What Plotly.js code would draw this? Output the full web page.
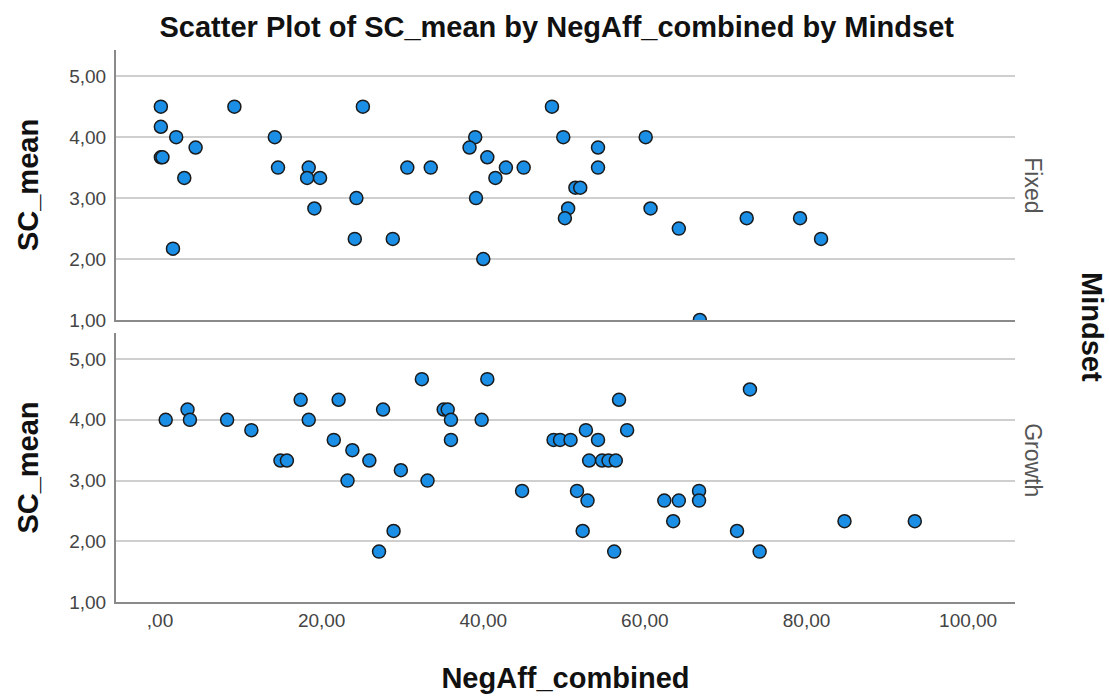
<!DOCTYPE html>
<html>
<head>
<meta charset="utf-8">
<script src="https://cdn.plot.ly/plotly-3.0.1.min.js"></script>
<style>html,body{margin:0;padding:0;background:#fff;}#chart{width:1109px;height:698px;}</style>
</head>
<body>
<div id="chart"></div>
<script>
// Data
const panels = ["Fixed", "Growth"];
const fixedX = [0.1, 0.1, 2.0, 4.4, 0.1, 0.3, 3.0, 1.6, 9.2, 14.2, 14.6, 18.4, 18.2, 19.8, 19.1, 24.3, 24.1, 25.1, 28.8, 30.6,
  33.5, 48.5, 39.0, 38.3, 40.5, 42.8, 45.0, 41.5, 39.1, 40.0, 49.9, 54.2, 54.2, 51.4, 52.0, 50.5, 50.1, 60.1, 60.7, 64.2,
  66.8, 72.6, 79.2, 81.8];
const fixedY = [4.5, 4.17, 4.0, 3.83, 3.67, 3.67, 3.33, 2.17, 4.5, 4.0, 3.5, 3.5, 3.33, 3.33, 2.83, 3.0, 2.33, 4.5, 2.33, 3.5,
  3.5, 4.5, 4.0, 3.83, 3.67, 3.5, 3.5, 3.33, 3.0, 2.0, 4.0, 3.83, 3.5, 3.17, 3.17, 2.83, 2.67, 4.0, 2.83, 2.5,
  1.0, 2.67, 2.67, 2.33];
const growthX = [0.7, 3.4, 3.7, 8.3, 11.3, 14.9, 15.7, 17.4, 18.4, 22.1, 21.5, 23.8, 25.9, 23.2, 27.6, 29.8, 28.9, 27.1, 32.4, 33.1,
  35.1, 35.6, 36.0, 36.0, 39.8, 40.5, 44.8, 48.7, 49.5, 50.8, 52.7, 54.2, 56.8, 57.8, 53.1, 54.7, 55.5, 56.4, 51.6, 52.9,
  52.3, 56.2, 62.4, 64.2, 63.5, 66.7, 66.7, 73.0, 71.4, 74.2, 84.7, 93.4];
const growthY = [4.0, 4.17, 4.0, 4.0, 3.83, 3.33, 3.33, 4.33, 4.0, 4.33, 3.67, 3.5, 3.33, 3.0, 4.17, 3.17, 2.17, 1.83, 4.67, 3.0,
  4.17, 4.17, 4.0, 3.67, 4.0, 4.67, 2.83, 3.67, 3.67, 3.67, 3.83, 3.67, 4.33, 3.83, 3.33, 3.33, 3.33, 3.33, 2.83, 2.67,
  2.17, 1.83, 2.67, 2.67, 2.33, 2.83, 2.67, 4.5, 2.17, 1.83, 2.33, 2.33];
const xTickVals = [0, 20, 40, 60, 80, 100];
const xTickText = [",00", "20,00", "40,00", "60,00", "80,00", "100,00"];
const yTickVals = [1, 2, 3, 4, 5];
const yTickText = ["1,00", "2,00", "3,00", "4,00", "5,00"];

const FONT = "Liberation Sans, Arial, Helvetica, sans-serif";
const marker = {color: "#1b8fe6", size: 13, line: {color: "#1a1a1a", width: 1.5}};

const traces = [
  {type: "scatter", mode: "markers", name: panels[0], x: fixedX, y: fixedY, xaxis: "x2", yaxis: "y2", marker: marker, showlegend: false},
  {type: "scatter", mode: "markers", name: panels[1], x: growthX, y: growthY, xaxis: "x", yaxis: "y", marker: marker, showlegend: false}
];

const xRange = [-5.45, 105.8];
const yRange = [1, 5.43];
const axisCommon = {
  showline: true, linecolor: "#8a8a8a", linewidth: 2, zeroline: false, ticks: "",
  tickfont: {family: FONT, size: 19, color: "#444"}
};
const titleFont = {family: FONT, size: 29, color: "#111"};

const layout = {
  width: 1109, height: 698,
  margin: {l: 116, r: 94, t: 50, b: 96},
  paper_bgcolor: "#fff", plot_bgcolor: "#fff",
  font: {family: FONT},
  title: {text: "<b>Scatter Plot of SC_mean by NegAff_combined by Mindset</b>", font: titleFont,
    x: 0.502, xref: "container", y: 0.962, yref: "container", yanchor: "middle", xanchor: "center"},
  xaxis: Object.assign({}, axisCommon, {domain: [0, 1], anchor: "y", range: xRange, showgrid: false,
    tickmode: "array", tickvals: xTickVals, ticktext: xTickText,
    title: {text: "<b>NegAff_combined</b>", font: titleFont, standoff: 38}}),
  xaxis2: Object.assign({}, axisCommon, {domain: [0, 1], anchor: "y2", range: xRange, showgrid: false, showticklabels: false,
    matches: "x"}),
  yaxis: Object.assign({}, axisCommon, {domain: [0, 0.4873], anchor: "x", range: yRange, showgrid: true, gridcolor: "#cfcfcf", gridwidth: 2,
    tickmode: "array", tickvals: yTickVals, ticktext: yTickText, ticklabelstandoff: 4,
    title: {text: "<b>SC_mean</b>", font: titleFont, standoff: 22}}),
  yaxis2: Object.assign({}, axisCommon, {domain: [0.5109, 1], anchor: "x2", range: yRange, showgrid: true, gridcolor: "#cfcfcf", gridwidth: 2,
    tickmode: "array", tickvals: yTickVals, ticktext: yTickText, ticklabelstandoff: 4,
    title: {text: "<b>SC_mean</b>", font: titleFont, standoff: 22}}),
  annotations: [
    {text: panels[0], xref: "paper", yref: "paper", x: 1.02, y: 0.755, textangle: 90, showarrow: false,
      font: {family: FONT, size: 23, color: "#555"}, xanchor: "center", yanchor: "middle"},
    {text: panels[1], xref: "paper", yref: "paper", x: 1.02, y: 0.257, textangle: 90, showarrow: false,
      font: {family: FONT, size: 23, color: "#555"}, xanchor: "center", yanchor: "middle"},
    {text: "<b>Mindset</b>", xref: "paper", yref: "paper", x: 1.0857, y: 0.498, textangle: 90, showarrow: false,
      font: titleFont, xanchor: "center", yanchor: "middle"}
  ]
};

Plotly.newPlot("chart", traces, layout, {displayModeBar: false, staticPlot: true});
</script>
</body>
</html>
